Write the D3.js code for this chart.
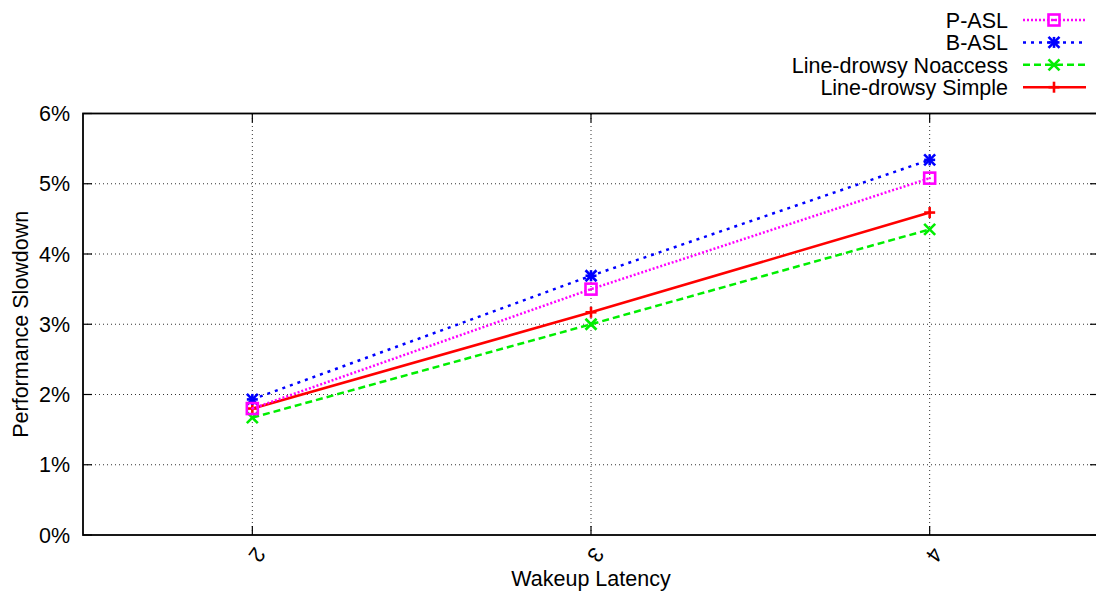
<!DOCTYPE html>
<html>
<head>
<meta charset="utf-8">
<script src="https://cdn.jsdelivr.net/npm/d3@7"></script>
<style>
  body { margin: 0; background: #fff; }
  text { font-family: "Liberation Sans", Arial, sans-serif; }
</style>
</head>
<body>
<script>
// data
var latency = [2, 3, 4]
var pAsl = [1.80, 3.50, 5.08]
var bAsl = [1.93, 3.69, 5.34]
var noaccess = [1.67, 3.00, 4.35]
var simple = [1.80, 3.17, 4.59]
var yTicks = [0, 1, 2, 3, 4, 5, 6]

var series = [
  {name: "P-ASL", vals: pAsl, color: "#ff00ff", dash: "2,2", mark: "square"},
  {name: "B-ASL", vals: bAsl, color: "#0000ff", dash: "3,5", mark: "star"},
  {name: "Line-drowsy Noaccess", vals: noaccess, color: "#00ee00", dash: "7,4", mark: "x"},
  {name: "Line-drowsy Simple", vals: simple, color: "#ff0000", dash: null, mark: "plus"}
]

var width = 1096, height = 593
var fs = 21.5
var svg = d3.select("body").append("svg")
  .attr("width", width)
  .attr("height", height)

var x = d3.scaleLinear().domain([1.5, 4.5]).range([83, 1099])
var y = d3.scaleLinear().domain([0, 6]).range([535, 113.5])

// grid lines
svg.selectAll("ygrid").data(yTicks.slice(1, 6)).enter().append("line")
  .attr("x1", x(1.5)).attr("x2", x(4.5))
  .attr("y1", function(d){ return y(d) }).attr("y2", function(d){ return y(d) })
  .attr("stroke", "#333").attr("stroke-width", 1).attr("stroke-dasharray", "1,3")
svg.selectAll("xgrid").data(latency).enter().append("line")
  .attr("x1", function(d){ return x(d) }).attr("x2", function(d){ return x(d) })
  .attr("y1", y(0)).attr("y2", y(6))
  .attr("stroke", "#333").attr("stroke-width", 1).attr("stroke-dasharray", "1,3")

// tick marks (inward, mirrored)
svg.selectAll("ytl").data(yTicks).enter().append("line")
  .attr("x1", x(1.5)).attr("x2", x(1.5) + 9)
  .attr("y1", function(d){ return y(d) }).attr("y2", function(d){ return y(d) })
  .attr("stroke", "#000").attr("stroke-width", 1.2)
svg.selectAll("ytr").data(yTicks).enter().append("line")
  .attr("x1", x(4.5)).attr("x2", x(4.5) - 9)
  .attr("y1", function(d){ return y(d) }).attr("y2", function(d){ return y(d) })
  .attr("stroke", "#000").attr("stroke-width", 1.2)
svg.selectAll("xtb").data(latency).enter().append("line")
  .attr("x1", function(d){ return x(d) }).attr("x2", function(d){ return x(d) })
  .attr("y1", y(0)).attr("y2", y(0) - 9)
  .attr("stroke", "#000").attr("stroke-width", 1.2)
svg.selectAll("xtt").data(latency).enter().append("line")
  .attr("x1", function(d){ return x(d) }).attr("x2", function(d){ return x(d) })
  .attr("y1", y(6)).attr("y2", y(6) + 9)
  .attr("stroke", "#000").attr("stroke-width", 1.2)

// border
svg.append("rect")
  .attr("x", x(1.5)).attr("y", y(6))
  .attr("width", x(4.5) - x(1.5)).attr("height", y(0) - y(6))
  .attr("fill", "none").attr("stroke", "#000").attr("stroke-width", 1.8)

// tick labels
svg.selectAll("ylab").data(yTicks).enter().append("text")
  .attr("x", 70).attr("y", function(d){ return y(d) })
  .attr("dy", "0.36em")
  .attr("text-anchor", "end").attr("font-size", fs)
  .text(function(d){ return d + "%" })
svg.selectAll("xlab").data(latency).enter().append("text")
  .attr("text-anchor", "middle").attr("font-size", fs)
  .attr("transform", function(d){ return "translate(" + (x(d) + 5) + ",555)rotate(125)" })
  .attr("dy", "0.36em")
  .text(function(d){ return d })

// axis titles
svg.append("text")
  .attr("x", x(3)).attr("y", 586)
  .attr("text-anchor", "middle").attr("font-size", fs)
  .text("Wakeup Latency")
svg.append("text")
  .attr("transform", "translate(20," + y(3) + ")rotate(-90)")
  .attr("dy", "0.36em")
  .attr("text-anchor", "middle").attr("font-size", fs)
  .text("Performance Slowdown")

function drawMark(g, kind, cx, cy, color) {
  var s = 5.5
  if (kind == "square") {
    g.append("rect").attr("x", cx - s).attr("y", cy - s).attr("width", 2 * s).attr("height", 2 * s)
      .attr("fill", "none").attr("stroke", color).attr("stroke-width", 2.6)
    g.append("circle").attr("cx", cx).attr("cy", cy).attr("r", 1.2).attr("fill", color)
  } else {
    var segs = []
    if (kind == "plus" || kind == "star") segs.push([-s, 0, s, 0], [0, -s, 0, s])
    if (kind == "x" || kind == "star") segs.push([-s, -s, s, s], [-s, s, s, -s])
    segs.forEach(function(p){
      g.append("line").attr("x1", cx + p[0]).attr("y1", cy + p[1]).attr("x2", cx + p[2]).attr("y2", cy + p[3])
        .attr("stroke", color).attr("stroke-width", 2.6)
    })
  }
}

// lines + points, drawn back to front
var line = d3.line().x(function(d, i){ return x(latency[i]) }).y(function(d){ return y(d) })
series.slice().reverse().forEach(function(s){
  var g = svg.append("g")
  g.append("path").attr("d", line(s.vals))
    .attr("fill", "none").attr("stroke", s.color).attr("stroke-width", 2.5)
    .attr("stroke-dasharray", s.dash)
  s.vals.forEach(function(v, i){ drawMark(g, s.mark, x(latency[i]), y(v), s.color) })
})

// legend
series.forEach(function(s, i){
  var ly = 20 + i * 22.4
  var g = svg.append("g")
  g.append("text").attr("x", 1008).attr("y", ly)
    .attr("dy", "0.36em")
    .attr("text-anchor", "end").attr("font-size", fs).text(s.name)
  g.append("line").attr("x1", 1023).attr("x2", 1086).attr("y1", ly).attr("y2", ly)
    .attr("stroke", s.color).attr("stroke-width", 2.5).attr("stroke-dasharray", s.dash)
  drawMark(g, s.mark, 1054, ly, s.color)
})
</script>
</body>
</html>
